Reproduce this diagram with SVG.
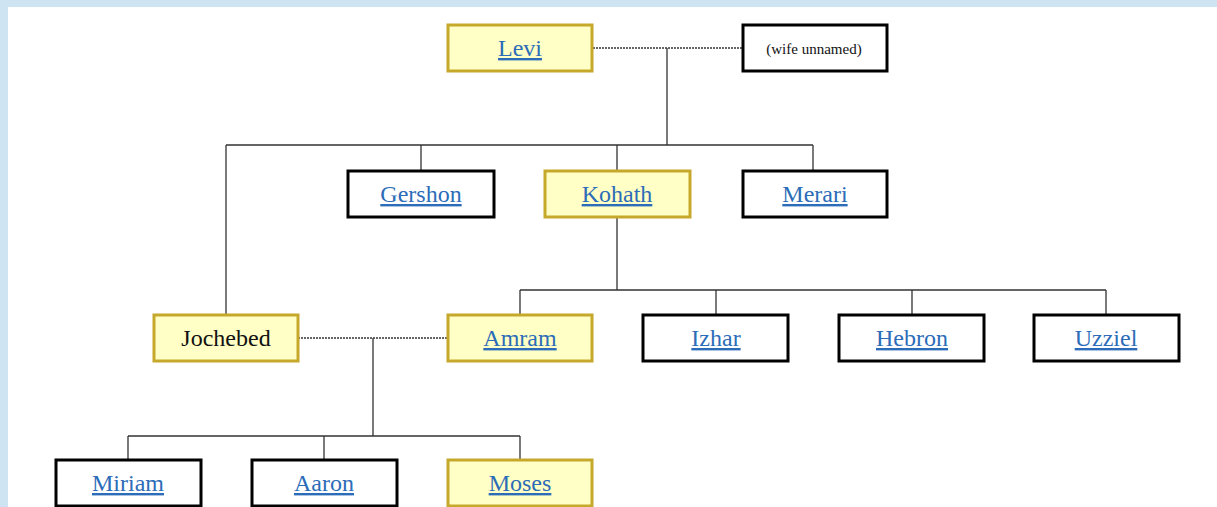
<svg xmlns="http://www.w3.org/2000/svg" width="1217" height="507" viewBox="0 0 1217 507">
<style>
.bg{fill:#cfe4f3}
.y{fill:#ffffc6;stroke:#c6a82a;stroke-width:3}
.b{fill:#ffffff;stroke:#000;stroke-width:3}
.t{font-family:"Liberation Serif",serif;font-size:24px;text-anchor:middle}
.l{fill:#2c6cb8;text-decoration:underline}
.k{fill:#111}
.s{font-family:"Liberation Serif",serif;font-size:15px;text-anchor:middle;fill:#111}
.c{fill:none;stroke:#333;stroke-width:1.3}
.d{fill:none;stroke:#333;stroke-width:1.3;stroke-dasharray:2 1}
</style>
<rect x="0" y="0" width="1217" height="507" fill="#fff"/>
<rect class="bg" x="0" y="0" width="1217" height="7"/>
<rect class="bg" x="0" y="0" width="8" height="507"/>
<g id="connectors">
<path class="d" d="M593 48H742"/>
<path class="c" d="M667 48V145M226 145H813M226 145V315M421 145V171M617 145V171M813 145V171"/>
<path class="c" d="M617 217V290M520 290H1106M520 290V315M716 290V315M912 290V315M1106 290V315"/>
<path class="d" d="M298 338H448"/>
<path class="c" d="M373 338V436M128 436H520M128 436V460M324 436V460M520 436V460"/>
</g>
<g id="levi"><rect class="y" x="448" y="25" width="144" height="46"/><text class="t l" x="520" y="56">Levi</text></g>
<g id="wife"><rect class="b" x="743" y="25" width="144" height="46"/><text class="s" x="814" y="54">(wife unnamed)</text></g>
<g id="gershon"><rect class="b" x="348" y="171" width="146" height="46"/><text class="t l" x="421" y="202">Gershon</text></g>
<g id="kohath"><rect class="y" x="545" y="171" width="145" height="46"/><text class="t l" x="617" y="202">Kohath</text></g>
<g id="merari"><rect class="b" x="743" y="171" width="144" height="46"/><text class="t l" x="815" y="202">Merari</text></g>
<g id="jochebed"><rect class="y" x="154" y="315" width="144" height="46"/><text class="t k" x="226" y="346">Jochebed</text></g>
<g id="amram"><rect class="y" x="448" y="315" width="144" height="46"/><text class="t l" x="520" y="346">Amram</text></g>
<g id="izhar"><rect class="b" x="643" y="315" width="145" height="46"/><text class="t l" x="716" y="346">Izhar</text></g>
<g id="hebron"><rect class="b" x="839" y="315" width="145" height="46"/><text class="t l" x="912" y="346">Hebron</text></g>
<g id="uzziel"><rect class="b" x="1034" y="315" width="145" height="46"/><text class="t l" x="1106" y="346">Uzziel</text></g>
<g id="miriam"><rect class="b" x="56" y="460" width="145" height="46"/><text class="t l" x="128" y="491">Miriam</text></g>
<g id="aaron"><rect class="b" x="252" y="460" width="145" height="46"/><text class="t l" x="324" y="491">Aaron</text></g>
<g id="moses"><rect class="y" x="448" y="460" width="144" height="46"/><text class="t l" x="520" y="491">Moses</text></g>
</svg>
